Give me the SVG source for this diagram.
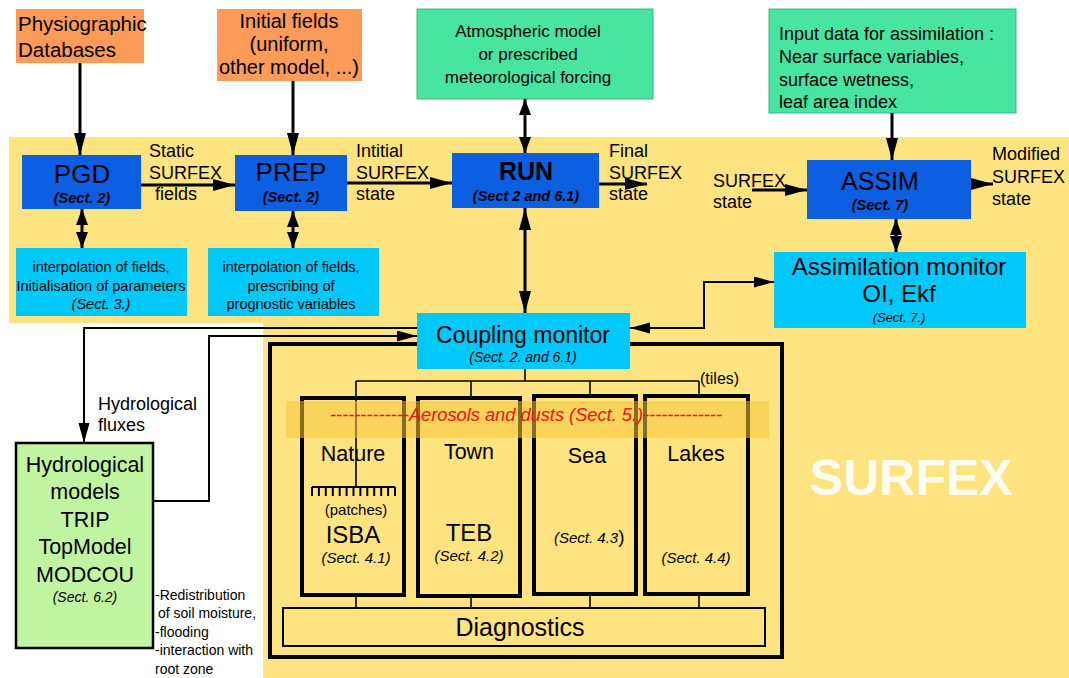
<svg xmlns="http://www.w3.org/2000/svg" width="1069" height="678" viewBox="0 0 1069 678">
<defs>
<style>
text{font-family:"Liberation Sans",Arial,sans-serif;fill:#000}
.c{text-anchor:middle}
.ln{fill:none;stroke:#000;stroke-width:3}
.th{fill:none;stroke:#000;stroke-width:2}
.tn{fill:none;stroke:#000;stroke-width:1.6}
.tile{fill:none;stroke:#000;stroke-width:4}
.org{fill:#FB9B57}
.grn{fill:#48E4A2;stroke:#3BB585;stroke-width:1}
.dbl{fill:#0B5FE0}
.lbl{fill:#00C8F8}
.it{font-style:italic}
.bi{font-style:italic;font-weight:bold}
</style>
<marker id="a" markerUnits="userSpaceOnUse" markerWidth="24" markerHeight="12" refX="22" refY="6" orient="auto-start-reverse">
<path d="M0,0 L22,6 L0,12 z" fill="#000"/>
</marker>
<marker id="m" markerUnits="userSpaceOnUse" markerWidth="18" markerHeight="12" refX="16" refY="6" orient="auto-start-reverse">
<path d="M0,0 L16,6 L0,12 z" fill="#000"/>
</marker>
<marker id="s" markerUnits="userSpaceOnUse" markerWidth="22" markerHeight="12" refX="20" refY="5.5" orient="auto-start-reverse">
<path d="M0,0 L20,5.5 L0,11 z" fill="#000"/>
</marker>
</defs>
<rect width="1069" height="678" fill="#fff"/>
<path d="M9,137 H1069 V678 H263 V323 H9 Z" fill="#FEE480"/>
<text x="911" y="495" class="c" style="font-size:50px;font-weight:bold;fill:#FFFDF2">SURFEX</text>

<g id="physio"><rect class="org" x="16" y="9" width="128" height="54"/>
<text x="18" y="31" style="font-size:20.5px">Physiographic</text><text x="18" y="57" style="font-size:20.5px">Databases</text></g>
<g id="initial"><rect class="org" x="217" y="9" width="145" height="72"/>
<text class="c" x="289" y="28" style="font-size:20px">Initial fields</text><text class="c" x="289" y="51" style="font-size:20px">(uniform,</text><text class="c" x="289" y="74" style="font-size:20px">other model, ...)</text></g>
<g id="atmos"><rect class="grn" x="417" y="9" width="236" height="90"/>
<text class="c" x="528" y="37" style="font-size:17px">Atmospheric model</text><text class="c" x="528" y="60" style="font-size:17px">or prescribed</text><text class="c" x="528" y="83" style="font-size:17px">meteorological forcing</text></g>
<g id="input"><rect class="grn" x="769" y="9" width="247" height="104"/>
<text x="779" y="40" style="font-size:18px">Input data for assimilation :</text><text x="779" y="63" style="font-size:18px">Near surface variables,</text><text x="779" y="86" style="font-size:18px">surface wetness,</text><text x="779" y="108" style="font-size:18px">leaf area index</text></g>

<g id="pgd"><rect class="dbl" x="22" y="155" width="119" height="54"/>
<text class="c" x="82" y="183" style="font-size:26px">PGD</text><text class="c bi" x="82" y="203" style="font-size:14.5px">(Sect. 2)</text></g>
<g id="prep"><rect class="dbl" x="235" y="155" width="112" height="56"/>
<text class="c" x="291" y="181" style="font-size:26px">PREP</text><text class="c bi" x="291" y="202" style="font-size:14.5px">(Sect. 2)</text></g>
<g id="run"><rect class="dbl" x="452" y="153" width="147" height="55"/>
<text class="c" x="526" y="180" style="font-size:25px;font-weight:bold">RUN</text><text class="c bi" x="526" y="201" style="font-size:14.5px">(Sect 2 and 6.1)</text></g>
<g id="assim"><rect class="dbl" x="807" y="160" width="164" height="59"/>
<text class="c" x="880" y="190" style="font-size:25px">ASSIM</text><text class="c bi" x="880" y="210" style="font-size:14.5px">(Sect. 7)</text></g>

<g id="interp1"><rect class="lbl" x="16" y="248" width="171" height="68"/>
<text class="c" x="101" y="272" style="font-size:14.5px">interpolation of fields,</text><text class="c" x="101" y="291" style="font-size:14.5px">Initialisation of parameters</text><text class="c it" x="101" y="309" style="font-size:14.5px">(Sect. 3.)</text></g>
<g id="interp2"><rect class="lbl" x="208" y="248" width="171" height="68"/>
<text class="c" x="291" y="272" style="font-size:14.5px">interpolation of fields,</text><text class="c" x="291" y="291" style="font-size:14.5px">prescribing of</text><text class="c" x="291" y="309" style="font-size:14.5px">prognostic variables</text></g>
<g id="assimmon"><rect class="lbl" x="774" y="252" width="252" height="76"/>
<text class="c" x="899" y="275" style="font-size:24px">Assimilation monitor</text><text class="c" x="899" y="302" style="font-size:24px">OI, Ekf</text><text class="c it" x="899" y="322" style="font-size:13px">(Sect. 7.)</text></g>

<g id="surfexbox"><rect x="270" y="344" width="512" height="313" fill="none" stroke="#000" stroke-width="4"/></g>
<g id="coupling"><rect class="lbl" x="417" y="313" width="213" height="56"/>
<text class="c" x="523" y="343" style="font-size:23px">Coupling monitor</text><text class="c it" x="523" y="362" style="font-size:14px">(Sect. 2. and 6.1)</text></g>

<g id="hydro"><rect x="16" y="443" width="137" height="205" fill="#C1F4A1" stroke="#000" stroke-width="2.5"/>
<text class="c" x="85" y="472" style="font-size:21.5px">Hydrological</text><text class="c" x="85" y="499" style="font-size:21.5px">models</text><text class="c" x="85" y="527" style="font-size:21.5px">TRIP</text><text class="c" x="85" y="554" style="font-size:21.5px">TopModel</text><text class="c" x="85" y="582" style="font-size:21.5px">MODCOU</text><text class="c it" x="85" y="602" style="font-size:14px">(Sect. 6.2)</text></g>

<g id="nature"><rect class="tile" x="302" y="398" width="102" height="197"/>
<text class="c" x="353" y="461" style="font-size:21.5px">Nature</text>
<path class="th" d="M312,487 H395 M312,487 V496 M318.9,487 V496 M325.8,487 V496 M332.8,487 V496 M339.7,487 V496 M346.6,487 V496 M353.5,487 V496 M360.4,487 V496 M367.3,487 V496 M374.2,487 V496 M381.2,487 V496 M388.1,487 V496 M395,487 V496"/>
<text class="c" x="356" y="515" style="font-size:15px">(patches)</text>
<text class="c" x="353" y="543" style="font-size:24px">ISBA</text><text class="c it" x="356" y="563" style="font-size:15px">(Sect. 4.1)</text></g>
<g id="town"><rect class="tile" x="418" y="398" width="102" height="198"/>
<text class="c" x="469" y="459" style="font-size:21.5px">Town</text>
<text class="c" x="469" y="541" style="font-size:24px">TEB</text><text class="c it" x="469" y="561" style="font-size:15px">(Sect. 4.2)</text></g>
<g id="sea"><rect class="tile" x="534" y="396" width="102" height="198"/>
<text class="c" x="587" y="463" style="font-size:21.5px">Sea</text>
<text x="554" y="543" style="font-size:15px"><tspan class="it">(Sect. 4.3</tspan><tspan style="font-size:19px">)</tspan></text></g>
<g id="lakes"><rect class="tile" x="645" y="396" width="103" height="198"/>
<text class="c" x="696" y="461" style="font-size:21.5px">Lakes</text>
<text class="c it" x="696" y="563" style="font-size:15px">(Sect. 4.4)</text></g>
<g id="diag"><rect x="283" y="608" width="482" height="38" fill="none" stroke="#000" stroke-width="2"/>
<text class="c" x="520" y="636" style="font-size:25px">Diagnostics</text></g>

<g id="connectors">
<path class="ln" d="M80,63 V155" marker-end="url(#a)"/>
<path class="ln" d="M293,81 V155" marker-end="url(#a)"/>
<path class="ln" d="M141,185 H235" marker-end="url(#a)"/>
<path class="ln" d="M347,183 H452" marker-end="url(#a)"/>
<path class="ln" d="M599,184 H647" marker-end="url(#a)"/>
<path class="ln" d="M525,99 V153" marker-start="url(#m)" marker-end="url(#m)"/>
<path class="ln" d="M892,113 V160" marker-end="url(#a)"/>
<path class="ln" d="M752,190 H807" marker-end="url(#a)"/>
<path class="ln" d="M971,184 H993" marker-end="url(#a)"/>
<path class="ln" d="M82,209 V248" marker-start="url(#m)" marker-end="url(#m)"/>
<path class="ln" d="M293,211 V248" marker-start="url(#m)" marker-end="url(#m)"/>
<path class="ln" d="M525,208 V313" marker-start="url(#a)" marker-end="url(#a)"/>
<path class="ln" d="M896,219 V252" marker-start="url(#m)" marker-end="url(#m)"/>
<path class="th" d="M630,328 H704 V282 H774" marker-start="url(#s)" marker-end="url(#s)"/>
<path class="th" d="M417,328 H84 V443" marker-end="url(#s)"/>
<path class="th" d="M153,501 H209 V336 H417" marker-end="url(#s)"/>
<path class="tn" d="M525,369 V381 M356,381 H699 M356,381 V487 M471,381 V398 M590,381 V396 M699,381 V396 M356,595 V608 M471,596 V608 M590,594 V608 M699,594 V608"/>
</g>
<g id="labels">
<text x="149" y="157" style="font-size:18px">Static</text><text x="149" y="179" style="font-size:18px">SURFEX</text><text x="155" y="200" style="font-size:18px">fields</text>
<text x="356" y="157" style="font-size:18px">Intitial</text><text x="356" y="179" style="font-size:18px">SURFEX</text><text x="356" y="200" style="font-size:18px">state</text>
<text x="609" y="157" style="font-size:18px">Final</text><text x="609" y="179" style="font-size:18px">SURFEX</text><text x="609" y="200" style="font-size:18px">state</text>
<text x="713" y="187" style="font-size:18px">SURFEX</text><text x="713" y="208" style="font-size:18px">state</text>
<text x="992" y="160" style="font-size:18px">Modified</text><text x="992" y="183" style="font-size:18px">SURFEX</text><text x="992" y="205" style="font-size:18px">state</text>
<text x="700" y="384" style="font-size:16px">(tiles)</text>
<text x="98" y="410" style="font-size:18px">Hydrological</text><text x="98" y="431" style="font-size:18px">fluxes</text>
<text x="155" y="600" style="font-size:14px">-Redistribution</text><text x="158" y="618" style="font-size:14px">of soil moisture,</text><text x="155" y="637" style="font-size:14px">-flooding</text><text x="155" y="655" style="font-size:14px">-interaction with</text><text x="155" y="674" style="font-size:14px">root zone</text>
</g>
<g id="aerosols">
<rect x="286" y="401" width="483" height="37" fill="#F5C63A" fill-opacity="0.55"/>
<text class="c it" x="526" y="421" style="font-size:17.5px;fill:#F0101A" textLength="392" lengthAdjust="spacingAndGlyphs">-------------Aerosols and dusts (Sect. 5.)-------------</text>
</g>
</svg>
